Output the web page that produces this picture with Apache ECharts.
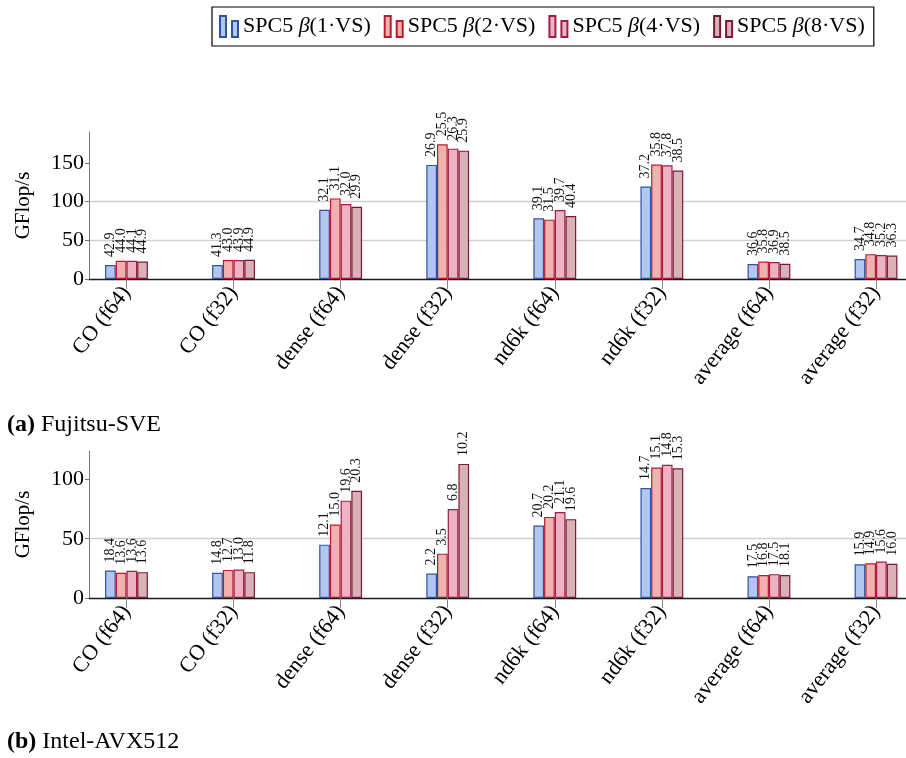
<!DOCTYPE html>
<html>
<head>
<meta charset="utf-8">
<title>SPC5 GFlop/s</title>
<script src="https://cdn.jsdelivr.net/npm/echarts@6/dist/echarts.min.js"></script>
<style>
  html, body { margin: 0; padding: 0; background: #fff; }
  #chart { width: 906px; height: 758px; }
</style>
</head>
<body>
<div id="chart"></div>
<script>
// Matrix / precision groups on the x axis
const categories = ['CO (f64)', 'CO (f32)', 'dense (f64)', 'dense (f32)',
  'nd6k (f64)', 'nd6k (f32)', 'average (f64)', 'average (f32)'];

// Kernel variants (number of vector sizes)
const variants = ['1', '2', '4', '8'];

// y-axis tick values for each panel
const ticksFujitsu = [0, 50, 100, 150];
const ticksIntel = [0, 50, 100];

// Fujitsu-SVE: GFlop/s per variant
const fujitsu1 = [18.0, 18.0, 89.6, 147.5, 78.5, 119.6, 19.3, 25.7];
const fujitsu2 = [23.5, 24.4, 104.2, 174.1, 76.7, 147.9, 22.7, 32.1];
const fujitsu4 = [23.5, 24.4, 96.9, 168.5, 89.2, 147.0, 21.9, 30.9];
const fujitsu8 = [22.7, 24.8, 93.4, 165.9, 81.4, 140.2, 19.7, 30.4];

// Fujitsu-SVE: numbers printed above each bar
const fujitsuNote1 = [42.9, 41.3, 32.1, 26.9, 39.1, 37.2, 36.6, 34.7];
const fujitsuNote2 = [44.0, 43.0, 31.1, 25.5, 31.5, 35.8, 35.8, 34.8];
const fujitsuNote4 = [44.1, 43.9, 32.0, 26.3, 39.7, 37.8, 36.9, 35.2];
const fujitsuNote8 = [44.9, 44.9, 29.9, 25.9, 40.4, 38.5, 38.5, 36.3];

// Intel-AVX512: GFlop/s per variant
const intel1 = [23.2, 21.2, 45.0, 20.6, 61.2, 92.7, 18.4, 28.5];
const intel2 = [21.2, 23.7, 62.0, 37.4, 68.4, 110.1, 19.3, 29.3];
const intel4 = [22.9, 24.0, 82.1, 75.1, 72.6, 112.3, 20.1, 30.7];
const intel8 = [21.8, 21.8, 90.5, 113.1, 66.5, 109.5, 19.3, 28.8];

// Intel-AVX512: numbers printed above each bar
const intelNote1 = [18.4, 14.8, 12.1, 2.2, 20.7, 14.7, 17.5, 15.9];
const intelNote2 = [13.6, 12.7, 15.0, 3.5, 20.2, 15.1, 16.8, 14.9];
const intelNote4 = [13.6, 13.0, 19.6, 6.8, 21.1, 14.8, 17.5, 15.6];
const intelNote8 = [13.6, 11.8, 20.3, 10.2, 19.6, 15.3, 18.1, 16.0];

const SERIF = '"Liberation Serif", "DejaVu Serif", serif';

const palette = [
  { fill: '#b3c6ee', stroke: '#2d54a3' },
  { fill: '#f1b1b1', stroke: '#b81c2a' },
  { fill: '#ecb3c3', stroke: '#a11d45' },
  { fill: '#d9b1b8', stroke: '#7c1a33' }
];

const legendName = v => 'SPC5 β(' + v + '·VS)';

const panels = [
  { values: [fujitsu1, fujitsu2, fujitsu4, fujitsu8],
    notes: [fujitsuNote1, fujitsuNote2, fujitsuNote4, fujitsuNote8],
    ticks: ticksFujitsu, max: 190, top: 132 },
  { values: [intel1, intel2, intel4, intel8],
    notes: [intelNote1, intelNote2, intelNote4, intelNote8],
    ticks: ticksIntel, max: 124, top: 451 }
];

const catIndex = categories.map((_, i) => i);

const grids = [], xAxes = [], yAxes = [], series = [];
panels.forEach((p, gi) => {
  grids.push({ left: 89, right: 0, top: p.top, height: 147 });
  xAxes.push({
    type: 'value', gridIndex: gi, min: -0.35, max: 7.28,
    axisLine: { show: true, onZero: false, lineStyle: { color: '#1a1a1a', width: 1.3 } },
    axisTick: { show: true, customValues: catIndex, length: 10, lineStyle: { color: '#888' } },
    axisLabel: {
      customValues: catIndex, rotate: 52, margin: 10,
      formatter: v => categories[Math.round(v)],
      fontFamily: SERIF, fontSize: 22, color: '#000'
    },
    splitLine: { show: false }
  });
  yAxes.push({
    type: 'value', gridIndex: gi, min: 0, max: p.max,
    name: 'GFlop/s', nameLocation: 'middle', nameGap: 55, nameRotate: 90,
    nameTextStyle: { fontFamily: SERIF, fontSize: 21, color: '#000' },
    axisLine: { show: true, onZero: false, lineStyle: { color: '#777' } },
    axisTick: { show: true, customValues: p.ticks, length: 4, lineStyle: { color: '#777' } },
    axisLabel: { customValues: p.ticks, fontFamily: SERIF, fontSize: 22, color: '#000', margin: 5 },
    splitLine: { show: true, showMinLine: false, showMaxLine: false, lineStyle: { color: '#cfcfcf', width: 1.3 } }
  });
  p.values.forEach((vals, si) => {
    const notes = p.notes[si];
    series.push({
      type: 'bar', name: legendName(variants[si]),
      xAxisIndex: gi, yAxisIndex: gi,
      barWidth: '10%', barGap: '0%',
      data: vals.map((v, i) => [i, v]),
      itemStyle: { color: palette[si].fill, borderColor: palette[si].stroke, borderWidth: 1.2 },
      label: {
        show: true, position: 'top', rotate: 90, align: 'left', verticalAlign: 'middle',
        distance: 8, fontFamily: SERIF, fontSize: 14, color: '#111',
        formatter: q => notes[q.dataIndex].toFixed(1)
      },
      emphasis: { disabled: true }
    });
  });
});

const captionStyle = {
  fontFamily: SERIF, fontSize: 24, fontWeight: 'normal', color: '#000',
  rich: { b: { fontFamily: SERIF, fontSize: 24, fontWeight: 'bold', color: '#000' } }
};

const chart = echarts.init(document.getElementById('chart'), null, { renderer: 'canvas' });
chart.setOption({
  animation: false,
  backgroundColor: '#fff',
  title: [
    { text: '{b|(a)} Fujitsu-SVE', left: 7, top: 413, padding: 0, textStyle: captionStyle },
    { text: '{b|(b)} Intel-AVX512', left: 7, top: 730, padding: 0, textStyle: captionStyle }
  ],
  legend: {
    data: variants.map(legendName),
    left: 212, top: 7,
    padding: [8, 9, 8, 7],
    itemGap: 13, itemWidth: 18, itemHeight: 21,
    icon: 'path://M0,0H6V21H0Z M12,5H18V21H12Z',
    borderColor: '#000', borderWidth: 1.2,
    formatter: name => {
      const m = name.match(/^SPC5 β(.*)$/);
      return '{n|SPC5 }{g|β}{n|' + m[1] + '}';
    },
    textStyle: {
      fontFamily: SERIF, fontSize: 22, color: '#000',
      rich: {
        n: { fontFamily: SERIF, fontSize: 22, color: '#000' },
        g: { fontFamily: SERIF, fontSize: 22, fontStyle: 'italic', color: '#000' }
      }
    },
    selectedMode: false
  },
  grid: grids,
  xAxis: xAxes,
  yAxis: yAxes,
  series: series
});
</script>
</body>
</html>
